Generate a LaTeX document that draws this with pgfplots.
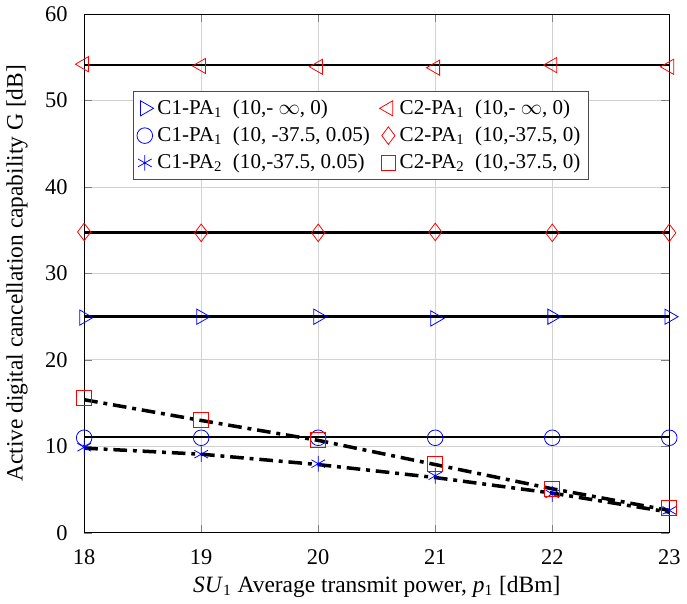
\documentclass[border=0pt]{standalone}
\usepackage{fontspec}
\setmainfont{Liberation Serif}
\usepackage{pgfplots}
\pgfplotsset{compat=1.18}
\begin{document}
\begin{tikzpicture}
\begin{axis}[
    scale only axis,
    width=300pt, height=266pt,
    xmin=18, xmax=23, ymin=0, ymax=60,
    xtick={18,19,20,21,22,23},
    ytick={0,10,20,30,40,50,60},
    /pgf/number format/assume math mode=true,
    tick label style={font=\fontsize{11.5}{13}\selectfont},
    xticklabel style={yshift=-5pt},
    yticklabel style={xshift=-5pt},
    grid=major,
    major grid style={gray!35, line width=0.5pt},
    tick align=inside,
    xlabel={\large \textit{SU}\textsubscript{1} Average transmit power, \textit{p}\textsubscript{1} [dBm]},
    xlabel style={yshift=1pt},
    ylabel={\large Active digital cancellation capability G [dB]},
    ylabel style={yshift=2pt},
    legend columns=2,
    legend style={at={(0.083,0.851)}, anchor=north west, draw=black!70, fill=white,
        font=\fontsize{10.8}{12.5}\selectfont, inner sep=2pt, row sep=1pt,
        /tikz/every even column/.append style={column sep=3pt}},
    legend cell align=left,
    ]
    % theoretical curves
    \addplot[black, line width=1.4pt, forget plot] coordinates {(18,54.1) (23,54.1)};
    \addplot[black, line width=1.4pt, forget plot] coordinates {(18,34.7) (23,34.7)};
    \addplot[black, line width=1.4pt, forget plot] coordinates {(18,25.0) (23,25.0)};
    \addplot[black, line width=1.4pt, forget plot] coordinates {(18,11.1) (23,11.1)};
    \addplot[black, line width=1.8pt, dash pattern=on 7pt off 3pt on 2pt off 3pt, forget plot]
        coordinates {(18,15.4) (19,13.0) (20,10.7) (21,7.9) (22,5.1) (23,2.6)};
    \addplot[black, line width=1.8pt, dash pattern=on 7pt off 3pt on 2pt off 3pt, forget plot]
        coordinates {(18,9.8) (19,9.1) (20,7.9) (21,6.4) (22,4.6) (23,2.4)};
    % simulated points
    \addplot[blue, only marks, mark=triangle, mark size=4.5pt, mark options={rotate=-90}]
        coordinates {(18,24.9) (19,25.0) (20,25.0) (21,24.8) (22,25.0) (23,25.0)};
    \addlegendentry{C1-PA\textsubscript{1}\ \ (10,- $\infty$, 0)}
    \addplot[red, only marks, mark=triangle, mark size=4.5pt, mark options={rotate=90}]
        coordinates {(18,54.2) (19,54.0) (20,53.9) (21,53.8) (22,54.1) (23,53.9)};
    \addlegendentry{C2-PA\textsubscript{1}\ \ (10,- $\infty$, 0)}
    \addplot[blue, only marks, mark=o, mark size=4pt]
        coordinates {(18,11.0) (19,11.0) (20,11.0) (21,11.0) (22,11.0) (23,11.0)};
    \addlegendentry{C1-PA\textsubscript{1}\ \ (10, -37.5, 0.05)}
    \addplot[red, only marks, mark=diamond, mark size=4.5pt]
        coordinates {(18,34.8) (19,34.7) (20,34.7) (21,34.8) (22,34.7) (23,34.7)};
    \addlegendentry{C2-PA\textsubscript{1}\ \ (10,-37.5, 0)}
    \addplot[blue, only marks, mark=asterisk, mark size=4pt]
        coordinates {(18,9.9) (19,9.1) (20,8.0) (21,6.6) (22,4.5) (23,2.6)};
    \addlegendentry{C1-PA\textsubscript{2}\ \ (10,-37.5, 0.05)}
    \addplot[red, only marks, mark=square, mark size=3.8pt]
        coordinates {(18,15.6) (19,13.1) (20,10.8) (21,8.0) (22,5.1) (23,2.9)};
    \addlegendentry{C2-PA\textsubscript{2}\ \ (10,-37.5, 0)}
\end{axis}
\end{tikzpicture}
\end{document}
